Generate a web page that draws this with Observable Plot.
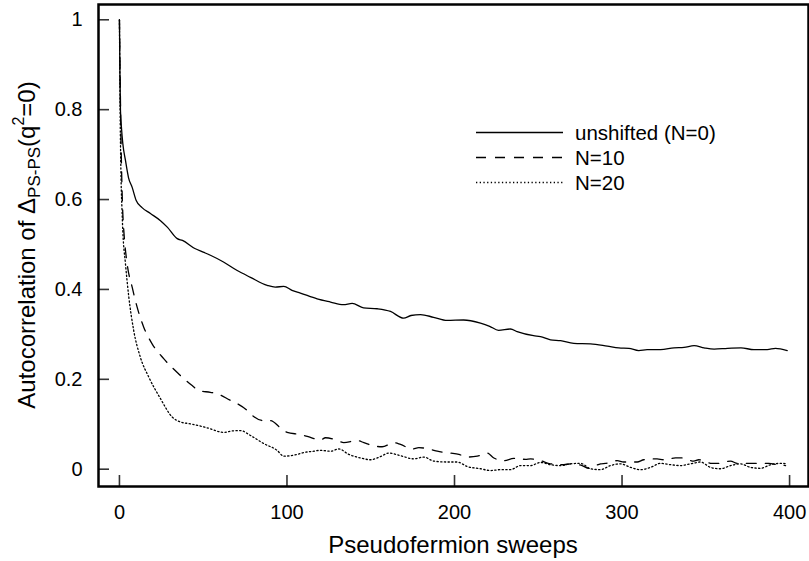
<!DOCTYPE html>
<html>
<head>
<meta charset="utf-8">
<script src="https://cdn.jsdelivr.net/npm/d3@7"></script>
<script src="https://cdn.jsdelivr.net/npm/@observablehq/plot@0.6"></script>
<style>
  body { margin: 0; background: #fff; }
  #chart { position: relative; width: 809px; height: 561px; }
</style>
</head>
<body>
<div id="chart"></div>
<script>
// ---- data ----
const xTicks = [0, 100, 200, 300, 400];
const yTicks = [0, 0.2, 0.4, 0.6, 0.8, 1];
const xLabel = "Pseudofermion sweeps";
const seriesNames = ["unshifted (N=0)", "N=10", "N=20"];

const unshifted = [
  [0,1.0],[0.3,0.88],[0.6,0.80],[1.2,0.76],[2,0.725],[3.6,0.687],[5.4,0.649],[7.6,0.627],
  [10,0.598],[13.5,0.582],[18.5,0.569],[24.5,0.553],[28.7,0.538],[34.5,0.513],[37.6,0.509],
  [45,0.491],[50,0.483],[54.3,0.476],[62.1,0.461],[70.3,0.442],[78.2,0.427],[88.2,0.409],
  [93,0.405],[98.1,0.407],[103,0.398],[108,0.392],[118,0.379],[126,0.372],[133.7,0.366],
  [138.9,0.369],[145.7,0.359],[153.9,0.357],[161.8,0.351],[169.6,0.336],[174,0.342],
  [179.7,0.344],[187.5,0.338],[195.6,0.331],[205.4,0.332],[215.5,0.325],[221,0.318],
  [226.3,0.309],[233.4,0.312],[237.4,0.306],[247.2,0.297],[251.3,0.295],[257.3,0.288],
  [263.3,0.286],[271.2,0.280],[281.2,0.279],[291.2,0.274],[298.1,0.270],[304.1,0.269],
  [310,0.264],[315,0.266],[323,0.266],[331,0.270],[337,0.271],[343,0.275],[349,0.270],
  [355,0.267],[363,0.269],[371,0.270],[378.7,0.266],[386.7,0.266],[391.6,0.269],[398.6,0.264]
];

const n10 = [
  [0,1.0],[0.5,0.85],[1,0.72],[1.5,0.63],[2,0.57],[2.6,0.531],[4.6,0.457],[7.6,0.405],
  [10.6,0.360],[14.5,0.316],[19.5,0.279],[26.4,0.246],[35.4,0.212],[43.4,0.186],[47.3,0.175],
  [54.3,0.171],[58.3,0.168],[66.3,0.153],[70.3,0.146],[76.2,0.131],[79.2,0.120],[86.1,0.108],
  [90.1,0.108],[96.1,0.092],[100.1,0.082],[108.1,0.077],[112.1,0.073],[120,0.065],[123,0.070],
  [130,0.064],[133.9,0.059],[141.9,0.064],[145.9,0.059],[152.8,0.051],[156.8,0.050],
  [163.8,0.059],[167.8,0.055],[174.7,0.045],[178.7,0.048],[185.7,0.044],[189.7,0.040],
  [197.6,0.036],[202.6,0.033],[207.6,0.027],[213.6,0.029],[219.5,0.036],[223.5,0.025],
  [229.4,0.019],[235.4,0.024],[242.4,0.022],[245.4,0.023],[251.3,0.019],[257.3,0.012],
  [265.3,0.010],[269.3,0.012],[276.2,0.008],[280.2,0.002],[287.2,0.012],[290.1,0.013],
  [297.1,0.019],[301,0.016],[309,0.016],[313,0.021],[320.9,0.023],[324.8,0.021],[331.9,0.025],
  [335.9,0.025],[342.8,0.018],[345.8,0.021],[353.8,0.013],[357.8,0.013],[364.8,0.018],
  [368.8,0.013],[376.7,0.013],[380.7,0.013],[387.6,0.013],[392.7,0.010],[397.6,0.008]
];

const n20 = [
  [0,1.0],[0.4,0.80],[1,0.64],[1.5,0.58],[2,0.531],[3.6,0.457],[5.6,0.383],[8.5,0.309],
  [12.5,0.249],[17.5,0.205],[24.5,0.157],[31.5,0.116],[36.4,0.105],[42.4,0.101],[52.4,0.092],
  [62.3,0.082],[67,0.085],[72.2,0.086],[78.2,0.075],[86.1,0.057],[94.1,0.042],[98.1,0.029],
  [106.1,0.033],[110,0.037],[116,0.040],[120,0.042],[126,0.040],[131,0.045],[136.9,0.033],
  [143.9,0.025],[149.9,0.021],[155.8,0.028],[160.8,0.036],[167.8,0.030],[175.7,0.023],
  [181.7,0.027],[187.6,0.018],[195.6,0.016],[201.6,0.016],[207.6,0.006],[215.5,0.001],
  [221.5,-0.003],[227.5,-0.001],[233.4,-0.001],[239.4,0.008],[245.4,0.008],[251.3,0.015],
  [257.3,0.010],[263.3,0.008],[269.3,0.012],[275.2,0.013],[281.2,0.001],[287.2,-0.001],
  [293.1,0.008],[299.1,0.012],[305.1,0.004],[311,-0.001],[317,0.004],[323,0.013],[329,0.010],
  [334.9,0.008],[340.9,0.012],[346.9,0.016],[352.8,0.004],[358.8,0.001],[364.8,0.008],
  [370.7,0.012],[376.7,0.004],[382.7,0.002],[388.7,0.010],[394.6,0.013],[398.6,0.012]
];

// ---- styles ----
const FONT = "'Liberation Sans', Arial, Helvetica, sans-serif";
const dashes = [null, "10,9", "1.3,2.4"];
const W = 809, H = 561;
const mL = 98, mR = 1, mT = 4, mB = 75;
const frameW = W - mL - mR, frameH = H - mT - mB;
const TICK = 11;

const chart = Plot.plot({
  width: W, height: H,
  marginLeft: mL, marginRight: mR, marginTop: mT, marginBottom: mB,
  style: {fontFamily: FONT, fontSize: "20px", color: "#000", background: "#fff"},
  x: {domain: [-12.5, 411.3], label: null},
  y: {domain: [-0.0385, 1.034], label: null},
  marks: [
    // inward ticks: full-frame ticks inset so only TICK px remain at the axis edge
    Plot.tickX(xTicks, {x: d => d, insetTop: frameH - TICK, stroke: "#333", strokeWidth: 1.6}),
    Plot.tickY(yTicks, {y: d => d, insetRight: frameW - TICK, stroke: "#333", strokeWidth: 1.6}),
    // tick labels
    Plot.axisX({ticks: xTicks, tickSize: 0, tickPadding: 18, tickFormat: d => String(d), fontSize: 20, label: null}),
    Plot.axisY({ticks: yTicks, tickSize: 0, tickPadding: 16, tickFormat: d => String(d), fontSize: 20, label: null}),
    Plot.line(unshifted, {x: d => d[0], y: d => d[1], stroke: "#000", strokeWidth: 1.3, curve: "monotone-x"}),
    Plot.line(n10, {x: d => d[0], y: d => d[1], stroke: "#000", strokeWidth: 1.3, curve: "monotone-x", strokeDasharray: dashes[1]}),
    Plot.line(n20, {x: d => d[0], y: d => d[1], stroke: "#000", strokeWidth: 1.3, curve: "monotone-x", strokeDasharray: dashes[2]}),
    Plot.frame({stroke: "#000", strokeWidth: 2.5})
  ]
});
document.getElementById("chart").appendChild(chart);

const svg = d3.select(chart);
const cx = mL + frameW / 2;
const cy = mT + frameH / 2;

// x label
svg.append("text")
  .attr("x", cx).attr("y", 553)
  .attr("text-anchor", "middle")
  .style("font-family", FONT).style("font-size", "24px").attr("fill", "#000")
  .text(xLabel);

// y label with subscript / superscript
const yl = svg.append("text")
  .attr("transform", `translate(35,${cy}) rotate(-90)`)
  .attr("text-anchor", "middle")
  .style("font-family", FONT).style("font-size", "24px").attr("fill", "#000");
yl.append("tspan").text("Autocorrelation of Δ");
yl.append("tspan").attr("dy", 5).style("font-size", "17px").text("PS-PS");
yl.append("tspan").attr("dy", -5).text("(q");
yl.append("tspan").attr("dy", -11).style("font-size", "16px").text("2");
yl.append("tspan").attr("dy", 11).text("=0)");

// legend
const leg = svg.append("g");
const rowY = [132.5, 157.5, 182.5];
seriesNames.forEach((name, i) => {
  leg.append("line")
    .attr("x1", 476).attr("x2", 563).attr("y1", rowY[i]).attr("y2", rowY[i])
    .attr("stroke", "#000").attr("stroke-width", 1.3)
    .attr("stroke-dasharray", dashes[i]);
  leg.append("text")
    .attr("x", 575).attr("y", rowY[i] + 7.5)
    .attr("text-anchor", "start")
    .style("font-family", FONT).style("font-size", "20.5px").attr("fill", "#000")
    .text(name);
});
</script>
</body>
</html>
